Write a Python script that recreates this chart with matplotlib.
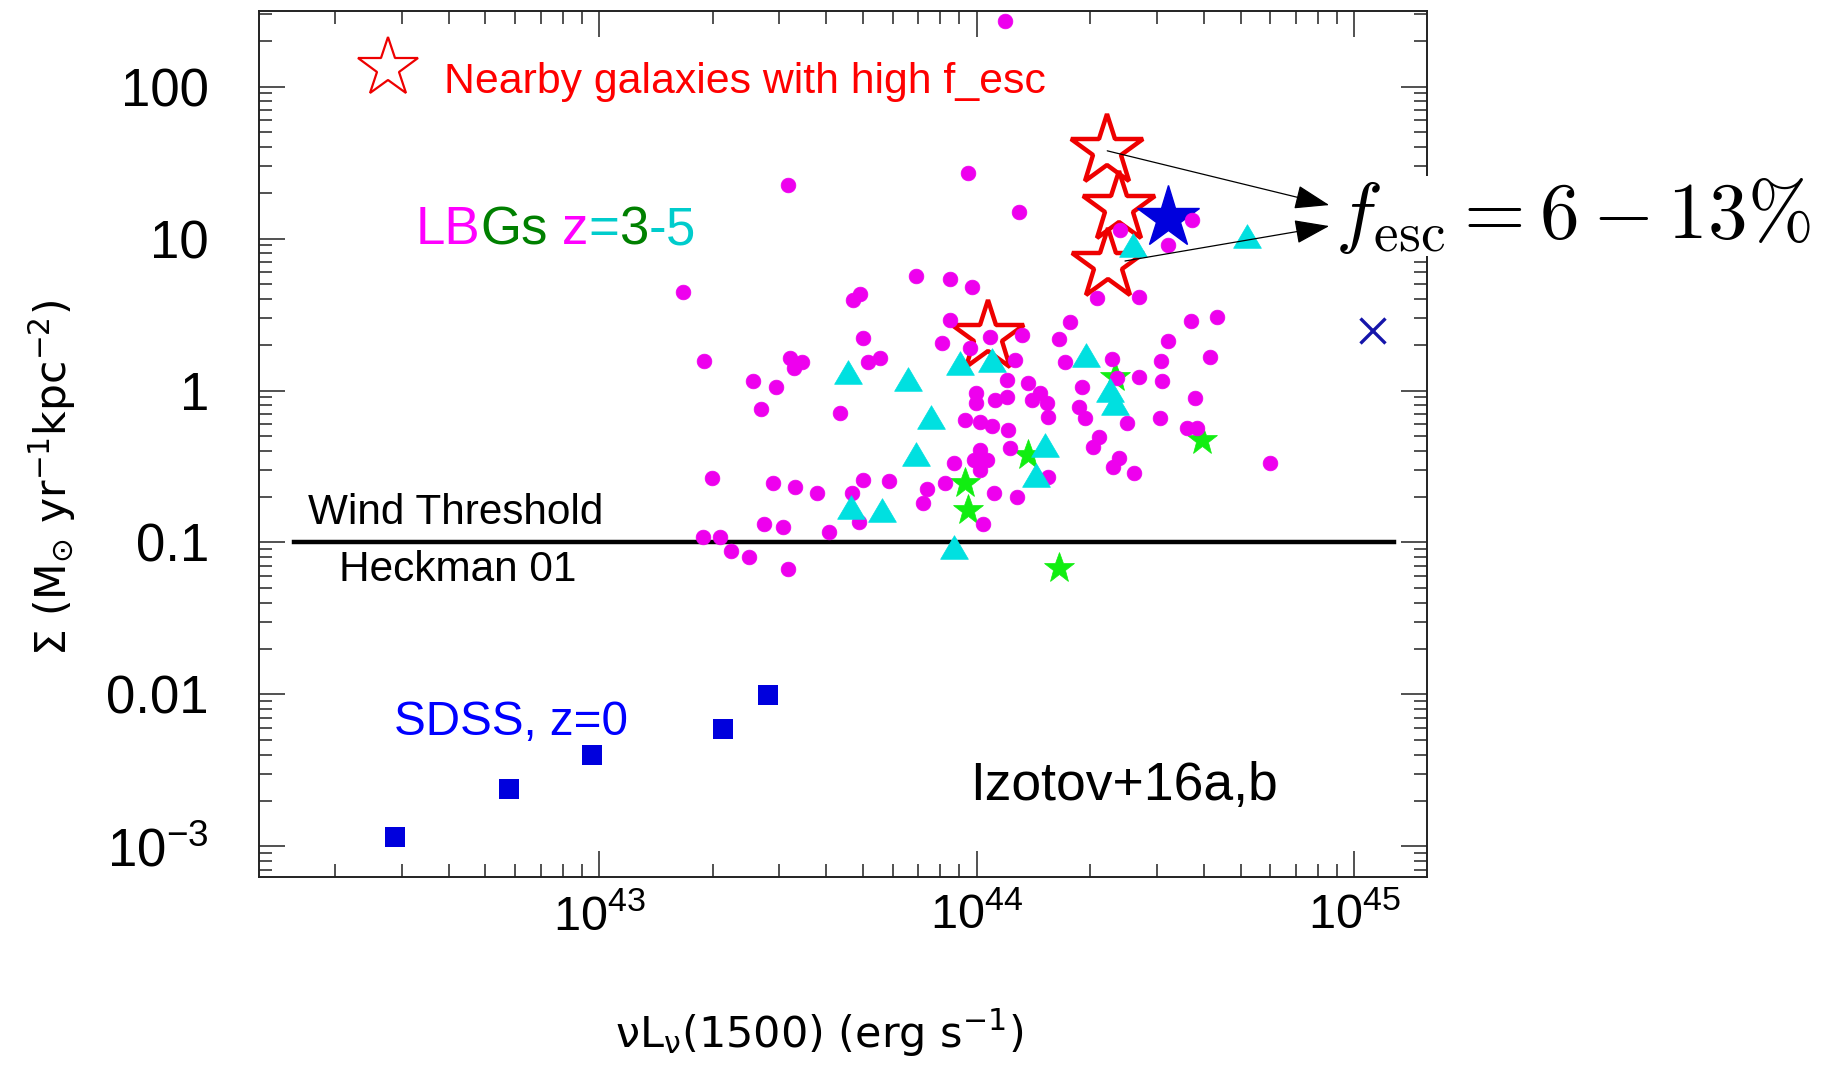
import numpy as np
import matplotlib
matplotlib.use("Agg")
import matplotlib.pyplot as plt
from matplotlib.lines import Line2D
from matplotlib.markers import MarkerStyle
from matplotlib.path import Path
from matplotlib.transforms import Affine2D
from matplotlib.ticker import FixedLocator, FixedFormatter, LogLocator, NullFormatter

plt.rcParams['font.family'] = ['Liberation Sans', 'DejaVu Sans']
plt.rcParams['mathtext.fontset'] = 'dejavusans'

# ---------------- data (log10 L_1500 [erg/s], log10 Sigma [Msun/yr/kpc^2]) ----------------
lbg_logL = [43.499, 43.978, 43.223, 43.839, 43.930, 43.988, 43.673, 43.691, 43.930, 43.699,
            43.908, 43.278, 43.506, 43.537, 43.515, 43.713, 43.743, 43.407, 43.469, 43.429,
            43.638, 44.036, 43.983, 43.999, 43.999, 44.049, 43.970, 44.009, 44.040, 43.939,
            43.992, 44.027, 44.009, 44.009, 44.075, 44.111, 44.570, 44.380, 44.508, 44.318,
            44.429, 44.248, 44.567, 44.638, 44.217, 44.508, 44.120, 44.234, 44.358, 44.489,
            44.617, 44.102, 44.371, 44.429, 44.491, 44.279, 44.579, 44.080, 44.080, 44.137,
            44.168, 44.186, 44.146, 44.190, 44.270, 44.287, 44.398, 44.486, 44.557, 44.583,
            44.084, 44.089, 44.323, 44.309, 44.376, 44.362, 44.778, 43.299, 43.460, 43.519,
            43.578, 43.700, 43.769, 43.669, 43.868, 43.859, 43.917, 44.018, 43.689, 43.438,
            43.488, 43.609, 43.276, 43.321, 43.349, 43.398, 43.499, 44.045, 44.417, 44.190,
            44.108]
lbg_logS = [1.352, 1.429, 0.650, 0.753, 0.734, 0.683, 0.595, 0.635, 0.464, 0.343,
            0.311, 0.194, 0.212, 0.189, 0.146, 0.189, 0.212, 0.0625, 0.025, -0.124,
            -0.146, 0.354, 0.278, -0.016, -0.082, -0.0625, -0.194, -0.205, -0.234, -0.479,
            -0.457, -0.457, -0.391, -0.523, 2.431, 1.176, 1.122, 1.056, 0.957, 0.607,
            0.617, 0.453, 0.457, 0.486, 0.337, 0.326, 0.365, 0.189, 0.205, 0.196,
            0.218, 0.201, 0.080, 0.091, 0.064, 0.025, -0.051, 0.069, -0.041, 0.047,
            -0.018, -0.084, -0.0625, -0.172, -0.107, -0.183, -0.216, -0.183, -0.249, -0.249,
            -0.260, -0.380, -0.304, -0.370, -0.446, -0.501, -0.479, -0.578, -0.611, -0.637,
            -0.676, -0.589, -0.593, -0.676, -0.650, -0.742, -0.611, -0.878, -0.863, -0.878,
            -0.896, -0.929, -0.962, -0.966, -1.054, -1.097, -1.176, -0.676, -0.545, -0.567,
            -0.703]

tri_logL = [43.659, 43.819, 43.879, 43.839, 43.956, 44.040, 44.415, 44.717, 44.290, 44.354,
            44.367, 44.181, 44.158, 43.667, 43.749, 43.939]
tri_logS = [0.124, 0.074, -0.172, -0.418, 0.179, 0.201, 0.957, 1.016, 0.234, 0.003,
            -0.084, -0.359, -0.556, -0.764, -0.786, -1.028]

gstar_logL = [44.367, 44.597, 44.137, 43.970, 43.978, 44.219]
gstar_logS = [0.091, -0.326, -0.424, -0.607, -0.786, -1.170]

sdss_logL = [42.459, 42.761, 42.981, 43.328, 43.447]
sdss_logS = [-2.940, -2.624, -2.400, -2.227, -2.005]

nearby_logL = [44.346, 44.376, 44.347, 44.030]
nearby_logS = [1.577, 1.199, 0.826, 0.352]

bstar_logL = [44.508]
bstar_logS = [1.133]

cross_logL = [45.048]
cross_logS = [0.398]

wind_logL = [42.192, 45.106]
wind_Sigma = 0.1

arrow_from_logL = [44.346, 44.393]
arrow_from_logS = [1.577, 0.852]
arrow_to_logL = [44.934, 44.934]
arrow_to_logS = [1.220, 1.082]

xtick_vals = [1e43, 1e44, 1e45]
xtick_labels = [r'$\mathdefault{10^{43}}$', r'$\mathdefault{10^{44}}$', r'$\mathdefault{10^{45}}$']
ytick_vals = [1e-3, 1e-2, 1e-1, 1, 10, 100]
ytick_labels = [r'$\mathdefault{10^{-3}}$', '0.01', '0.1', '1', '10', '100']

xlim_log = (42.099, 45.193)
ylim_log = (-3.201, 2.497)

# ---------------- figure ----------------
W, H = 1828, 1067
fig = plt.figure(figsize=(W / 100, H / 100), dpi=100)
ax = fig.add_axes([259 / W, 1 - 877 / H, (1427 - 259) / W, (877 - 11) / H])
ax.set_xscale('log')
ax.set_yscale('log')
ax.set_xlim(10 ** xlim_log[0], 10 ** xlim_log[1])
ax.set_ylim(10 ** ylim_log[0], 10 ** ylim_log[1])

p10 = lambda a: 10 ** np.asarray(a, dtype=float)

# markers
tri = Path([(0, 0.85), (-1, -0.85), (1, -0.85), (0, 0.85)],
           [Path.MOVETO, Path.LINETO, Path.LINETO, Path.CLOSEPOLY])

ax.plot(p10(nearby_logL), p10(nearby_logS), ls='none', marker='*', ms=54,
        mfc='none', mec='#ee0000', mew=3.2, zorder=2)
ax.plot(p10(bstar_logL), p10(bstar_logS), ls='none', marker='*', ms=47,
        mfc='#0000dd', mec='#0000dd', zorder=3)
ax.plot(p10(gstar_logL), p10(gstar_logS), ls='none', marker='*', ms=23,
        mfc='#11ee11', mec='#11ee11', mew=0.5, zorder=4)
ax.plot(p10(lbg_logL), p10(lbg_logS), ls='none', marker='o', ms=10.6,
        mfc='#ee00ee', mec='#ee00ee', mew=0.5, zorder=5)
ax.plot(p10(tri_logL), p10(tri_logS), ls='none', marker=tri, ms=20,
        mfc='#00e0e0', mec='#00e0e0', mew=0.5, zorder=6)
ax.plot(p10(sdss_logL), p10(sdss_logS), ls='none', marker='s', ms=13.7,
        mfc='#0000dd', mec='#0000dd', mew=0, zorder=6)
ax.plot(p10(cross_logL), p10(cross_logS), ls='none', marker='x', ms=18,
        mec='#1515aa', mew=2.4, zorder=6)

# wind threshold line
ax.plot(p10(wind_logL), [wind_Sigma, wind_Sigma], color='black', lw=3.2, zorder=1)

# arrows to the f_esc label
for xf, yf, xt, yt in zip(arrow_from_logL, arrow_from_logS, arrow_to_logL, arrow_to_logS):
    ax.annotate('', xy=(10 ** xt, 10 ** yt), xytext=(10 ** xf, 10 ** yf),
                arrowprops=dict(arrowstyle='-|>,head_length=1.1,head_width=0.38',
                                mutation_scale=20, lw=0.9, color='black',
                                shrinkA=0, shrinkB=0), zorder=7)

# ticks
ax.xaxis.set_major_locator(FixedLocator(xtick_vals))
ax.xaxis.set_major_formatter(FixedFormatter(xtick_labels))
ax.xaxis.set_minor_locator(LogLocator(base=10, subs=np.arange(2, 10), numticks=50))
ax.xaxis.set_minor_formatter(NullFormatter())
ax.yaxis.set_major_locator(FixedLocator(ytick_vals))
ax.yaxis.set_major_formatter(FixedFormatter(ytick_labels))
ax.yaxis.set_minor_locator(LogLocator(base=10, subs=np.arange(2, 10), numticks=50))
ax.yaxis.set_minor_formatter(NullFormatter())
ax.tick_params(which='both', direction='in', top=True, right=True, color='#222222', width=1.1)
ax.tick_params(which='major', length=18.7)
ax.tick_params(which='minor', length=9.7)
ax.tick_params(axis='x', which='major', pad=12, labelsize=35)
ax.tick_params(axis='y', which='major', pad=36, labelsize=38)
for sp in ax.spines.values():
    sp.set_linewidth(1.4)
    sp.set_color('#222222')

# axis labels (DejaVu)
fig.text(819 / W, 1 - 1048 / H, 'νL$_{\\mathrm{ν}}$(1500) (erg s$^{-1}$)', family='DejaVu Sans',
         fontsize=31, ha='center', va='baseline')
fig.text(52 / W, 1 - 478 / H, 'Σ (M$_{\\odot}$ yr$^{-1}$kpc$^{-2}$)', family='DejaVu Sans',
         fontsize=30.5, ha='center', va='center', rotation=90)

# key for the nearby galaxies
key_marker = MarkerStyle('*', transform=Affine2D().translate(0, 0.16))
key = Line2D([], [], ls='none', marker=key_marker, ms=45, mfc='none', mec='#ee0000', mew=1.6)
leg = ax.legend(handles=[key], labels=['Nearby galaxies with high f_esc'], labelcolor='#ff0000',
                frameon=False, fontsize=30.8, handlelength=1.2, handletextpad=0.72,
                borderpad=0, borderaxespad=0, loc='upper left',
                bbox_to_anchor=(362 / W, 1 - 62 / H), bbox_transform=fig.transFigure)

# annotations
fig.text(308 / W, 1 - 524.5 / H, 'Wind Threshold', fontsize=30.4, va='baseline')
fig.text(339 / W, 1 - 581.4 / H, 'Heckman 01', fontsize=30.5, va='baseline')
fig.text(394.4 / W, 1 - 735 / H, 'SDSS, z=0', fontsize=34.3, color='#0000ff', va='baseline')
fig.text(970 / W, 1 - 800.2 / H, 'Izotov+16a,b', fontsize=38.5, va='baseline')

# multicoloured LBG label
mag, grn, cyn = '#ff00ff', '#008000', '#00cccc'
pieces = [('LB', mag), ('Gs', grn), (' z', mag), ('=', cyn), ('3', grn), ('-', cyn), ('5', cyn)]
renderer = fig.canvas.get_renderer()
x0, yb, fs = 415.5 / W, 1 - 244 / H, 38


def text_width(s):
    t = fig.text(0, 0, s, fontsize=fs)
    w = t.get_window_extent(renderer).width
    t.remove()
    return w


prefix = ''
for s, c in pieces:
    prefix += s
    core = s.strip()
    xpos = x0 + (text_width(prefix) - text_width(core)) / W
    fig.text(xpos, yb, core, fontsize=fs, color=c, va='baseline')

# f_esc label (LaTeX style)
fig.text(1335 / W, 1 - 238 / H, r'$f_{\rm esc} = 6 - 13\%$', math_fontfamily='cm',
         fontsize=57, ha='left', va='baseline',
         bbox=dict(facecolor='white', edgecolor='none', pad=0))

fig.savefig('out.png', dpi=100)
